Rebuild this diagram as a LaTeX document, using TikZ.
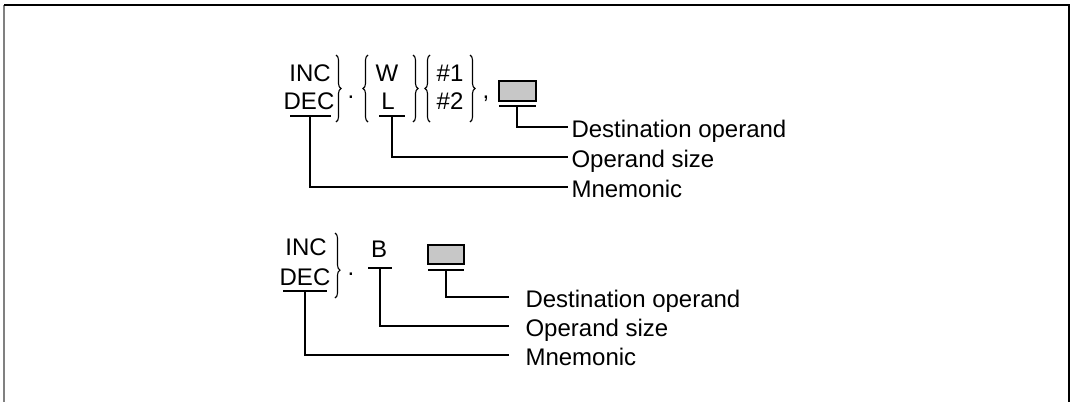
\documentclass[tikz,border=0pt]{standalone}
\usepackage{fontspec}
\setmainfont{Liberation Sans}
\usetikzlibrary{decorations.pathreplacing}
\tikzset{
    txt/.style={anchor=base, inner sep=0pt, font=\fontsize{24}{29}\selectfont},
    lbl/.style={anchor=west, inner ysep=0pt, inner xsep=#1, text height=20pt, text depth=0pt,
        font=\fontsize{24}{29}\selectfont},
    lbl/.default=3pt,
    brc/.style={decorate, decoration={brace, amplitude=5pt, aspect=#1}},
    brc/.default=0.5,
    opbox/.style={draw, fill=black!22, line width=1.1pt},
}
\begin{document}
\begin{tikzpicture}[x=1pt, y=-1pt, line width=1.1pt]
    \useasboundingbox (0,0) rectangle (1074,402);
    % 外框
    \draw[gray, line width=2pt] (4,5) -- (4,402);
    \draw[line width=2pt] (4,5) -- (1069,5) -- (1069,402);

    % 上：INC/DEC.W/L #1/#2, 目的操作数
    \node[txt] (inc1) at (310,81) {INC};
    \node[txt] (dec1) at (309,109) {DEC};
    \draw[brc] (336,55) -- (336,122);
    \node[txt] (dot1) at (351,98) {.};
    \draw[brc] (368,122) -- (368,55);
    \node[txt] (w1) at (387,81) {W};
    \node[txt] (l1) at (388,109) {L};
    \draw[brc] (413,55) -- (413,122);
    \draw[brc] (430,122) -- (430,55);
    \node[txt] (n1) at (450,81) {\#1};
    \node[txt] (n2) at (450,109) {\#2};
    \draw[brc] (470,55) -- (470,122);
    \node[txt] (cm1) at (486,98) {,};
    \node[opbox, minimum width=37pt, minimum height=20pt, inner sep=0pt] (box1) at (517.5,91) {};
    % 下划线
    \draw (290,116) -- (331,116);
    \draw (379,116) -- (405,116);
    \draw (499,106) -- (536,106);
    \coordinate (dec1u) at (310,116);
    \coordinate (l1u) at (392,116);
    \coordinate (box1u) at (517,106);
    % 标注
    \node[lbl] (dst1) at (568,127) {Destination operand};
    \node[lbl] (siz1) at (568,157) {Operand size};
    \node[lbl] (mne1) at (568,187) {Mnemonic};
    \draw (box1u) |- (dst1.west);
    \draw (l1u) |- (siz1.west);
    \draw (dec1u) |- (mne1.west);

    % 下：INC/DEC.B
    \node[txt] (inc2) at (306,255) {INC};
    \node[txt] (dec2) at (305,285) {DEC};
    \draw[brc=0.57] (335,233) -- (335,298);
    \node[txt] (dot2) at (351,275) {.};
    \node[txt] (b2) at (379,257) {B};
    \node[opbox, minimum width=36pt, minimum height=19pt, inner sep=0pt] (box2) at (446,254.5) {};
    % 下划线
    \draw (283,291) -- (327,291);
    \draw (368,268) -- (392,268);
    \draw (428,270) -- (464,270);
    \coordinate (dec2u) at (305,291);
    \coordinate (b2u) at (380,268);
    \coordinate (box2u) at (446,270);
    % 标注
    \node[lbl=16pt] (dst2) at (509,297) {Destination operand};
    \node[lbl=16pt] (siz2) at (509,326) {Operand size};
    \node[lbl=16pt] (mne2) at (509,355) {Mnemonic};
    \draw (box2u) |- (dst2.west);
    \draw (b2u) |- (siz2.west);
    \draw (dec2u) |- (mne2.west);
\end{tikzpicture}
\end{document}
